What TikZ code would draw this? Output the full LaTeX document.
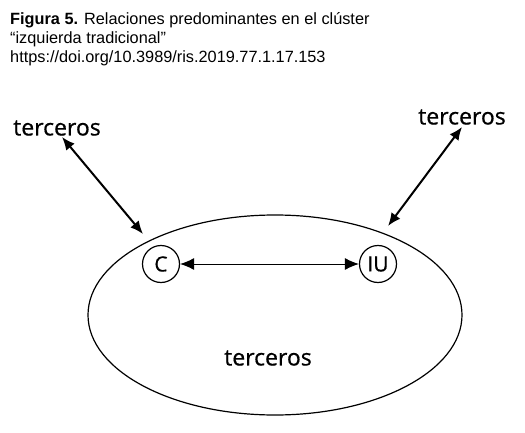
\documentclass[tikz,border=0pt]{standalone}
\usepackage{fontspec}
\setmainfont{Liberation Sans}
\newfontfamily\diafont[FakeBold=0.6]{Open Sans}
\usetikzlibrary{arrows.meta,shapes.geometric}
\begin{document}
\begin{tikzpicture}[x=1pt,y=-1pt,
  lbl/.style={font=\diafont\fontsize{23}{26}\selectfont, inner sep=0pt},
  party/.style={circle, draw, line width=1.2pt, minimum size=37pt, inner sep=0pt, font=\diafont\fontsize{21}{24}\selectfont},
  bigarrow/.style={line width=2pt, {Latex[length=13pt,width=11pt]}-{Latex[length=13pt,width=11pt]}},
  smallarrow/.style={line width=1pt, {Latex[length=14pt,width=12pt]}-{Latex[length=14pt,width=12pt]}},
  ttl/.style={anchor=base west, inner sep=0pt, font=\fontsize{16.3}{19}\selectfont}]
\useasboundingbox (0,0) rectangle (525,433);
\node[ttl] (t1) at (10,25) {\textbf{Figura 5.} Relaciones predominantes en el clúster};
\node[ttl] (t2) at (10,44) {“izquierda tradicional”};
\node[ttl] (t3) at (10,63) {https://doi.org/10.3989/ris.2019.77.1.17.153};
\node[ellipse, draw, line width=1.2pt, minimum width=374pt, minimum height=200pt, inner sep=0pt] (E) at (275,315) {};
\node[lbl] (tin) at (268,358) {terceros};
\node[lbl] (tl) at (57,128) {terceros};
\node[lbl] (tr) at (462,117) {terceros};
\node[party] (C) at (161,264) {C};
\node[party] (IU) at (378,264) {IU};
\draw[smallarrow] (C) -- (IU);
\coordinate (l1) at (62,137);
\coordinate (l2) at (143,234);
\coordinate (r1) at (462,127);
\coordinate (r2) at (388,226);
\draw[bigarrow] (l1) -- (l2);
\draw[bigarrow] (r1) -- (r2);
\end{tikzpicture}
\end{document}
